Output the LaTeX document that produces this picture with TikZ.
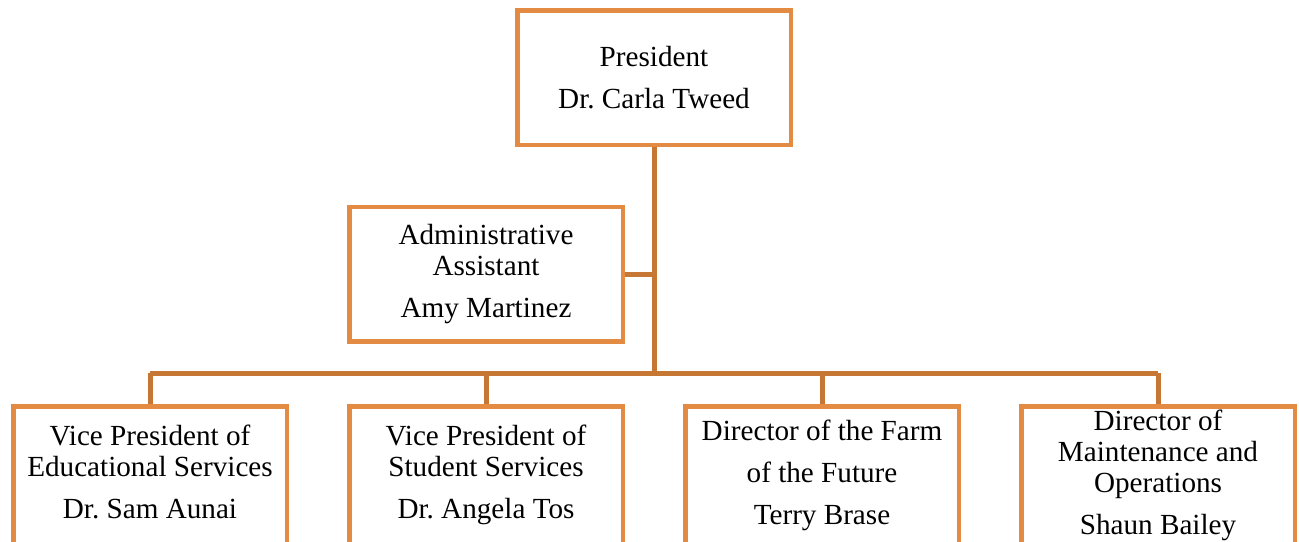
\documentclass[tikz,border=0pt]{standalone}
\usepackage{fontspec}
\setmainfont{Liberation Serif}
\frenchspacing
\definecolor{boxorange}{RGB}{227,139,66}
\definecolor{lineorange}{RGB}{199,119,52}
\usetikzlibrary{positioning,calc}
\newcommand{\pgap}{\\[6.3pt]}

\begin{document}
\begin{tikzpicture}[
    unit/.style={draw=boxorange,line width=0.09cm,fill=white,
        minimum width=5.47cm,minimum height=2.69cm,align=center,
        font=\fontsize{16.6}{17.6}\selectfont},
    lowunit/.style={unit,anchor=north,minimum height=3.2cm},
    txt/.style={align=center,font=\fontsize{16.6}{17.6}\selectfont,
        execute at begin node=\strut,execute at end node=\strut},
    link/.style={draw=lineorange,line width=0.1cm}]
  \useasboundingbox (0,0) rectangle (25.98,-10.82);

  %% Top: President
  \node[unit] (pres) at (13.08,-1.55) {President\pgap Dr. Carla Tweed};

  %% Staff: Administrative Assistant
  \node[unit] (adm) at (9.72,-5.48)
        {Administrative\\Assistant\pgap Amy Martinez};

  %% Bottom row (boxes run past the lower edge)
  \node[lowunit] (vped) at (3.00,-8.085) {};
  \node[txt] at (3.00,-9.53)
        {Vice President of\\Educational Services\pgap Dr. Sam Aunai};
  \node[lowunit] (vpst) at (9.72,-8.085) {};
  \node[txt] at (9.72,-9.53)
        {Vice President of\\Student Services\pgap Dr. Angela Tos};
  \node[lowunit] (dfarm) at (16.44,-8.085) {};
  \node[txt] at (16.44,-9.53)
        {Director of the Farm\pgap of the Future\pgap Terry Brase};
  \node[lowunit] (dmaint) at (23.16,-8.085) {};
  \node[txt] at (23.16,-9.53)
        {Director of\\Maintenance and\\Operations\pgap Shaun Bailey};

  %% Connectors
  \coordinate (bar) at (13.08,-7.46);
  \draw[link] (pres.south) -- (bar);
  \draw[link] (adm.east) -- (adm.east -| pres.south);
  \draw[link] (vped.north |- bar) -- (dmaint.north |- bar);
  \foreach \n in {vped,vpst,dfarm,dmaint}
    \draw[link] (\n.north |- bar) -- (\n.north);
\end{tikzpicture}
\end{document}
